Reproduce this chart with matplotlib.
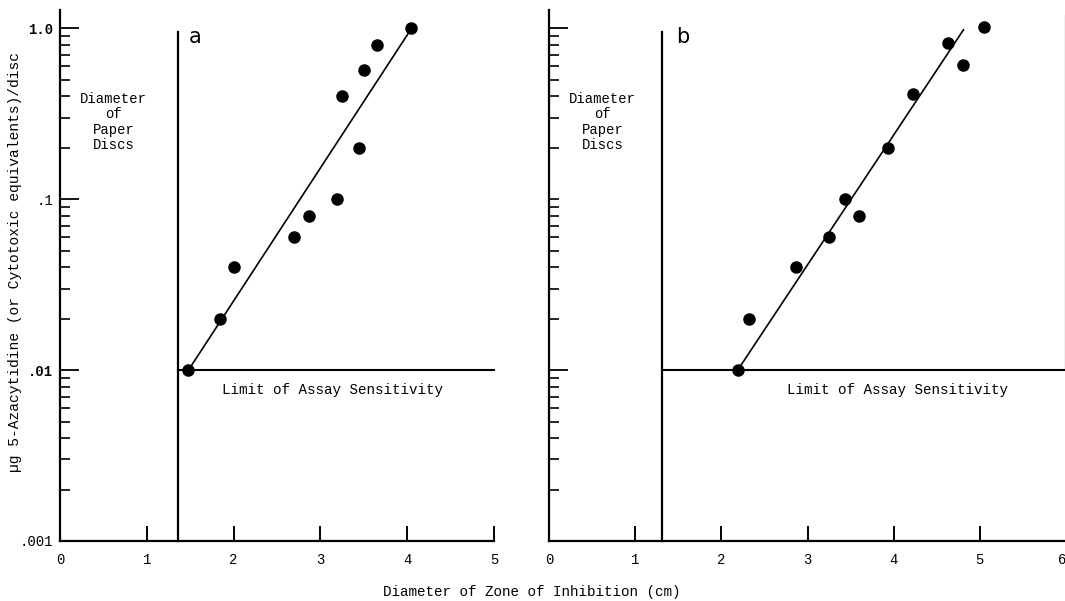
import numpy as np
import matplotlib.pyplot as plt
from matplotlib.ticker import FixedLocator, NullFormatter, FixedFormatter

# === data ===
a_x = [1.48, 1.84, 2.00, 2.70, 2.87, 3.19, 3.25, 3.45, 3.50, 3.65, 4.04]
a_y = [0.01, 0.02, 0.04, 0.06, 0.08, 0.10, 0.40, 0.20, 0.57, 0.80, 1.00]
a_fit_x = [1.48, 4.01]
a_fit_y = [0.01, 0.93]

b_x = [2.19, 2.32, 2.87, 3.25, 3.43, 3.60, 3.94, 4.22, 4.63, 4.81, 5.05]
b_y = [0.01, 0.02, 0.04, 0.06, 0.10, 0.08, 0.20, 0.41, 0.82, 0.61, 1.02]
b_fit_x = [2.19, 4.81]
b_fit_y = [0.01, 0.98]

disc_a = 1.36
disc_b = 1.31
limit = 0.01

ytick_vals = [1.0, 0.1, 0.01, 0.001]
ytick_labels = ['1.0', '.1', '.01', '.001']

mono = 'Liberation Mono'
fig = plt.figure(figsize=(10.65, 6.01), dpi=100)
fig.patch.set_facecolor('white')

ax_a = fig.add_axes([60 / 1065, 60 / 601, 434 / 1065, 531 / 601])
ax_b = fig.add_axes([549 / 1065, 60 / 601, 517 / 1065, 531 / 601])


def minor_ticks():
    out = []
    for dec in [0.001, 0.01, 0.1]:
        out += [dec * k for k in range(2, 10)]
    return out


for ax, xmax in [(ax_a, 5), (ax_b, 6)]:
    ax.set_yscale('log')
    ax.set_xlim(0, xmax)
    ax.set_ylim(0.001, 1.28)
    for s in ['top', 'right']:
        ax.spines[s].set_visible(False)
    for s in ['left', 'bottom']:
        ax.spines[s].set_linewidth(1.6)
    ax.set_xticks(range(0, xmax + 1))
    ax.set_xticklabels([str(i) for i in range(0, xmax + 1)], fontfamily=mono, fontsize=10)
    ax.tick_params(axis='x', direction='in', length=11, width=1.4, pad=9)
    ax.xaxis.get_major_ticks()[0].tick1line.set_visible(False)

# last label of panel b sits on the figure edge
ax_b.get_xticklabels()[-1].set_horizontalalignment('right')

# y ticks panel a
ax_a.yaxis.set_major_locator(FixedLocator(ytick_vals))
ax_a.yaxis.set_major_formatter(FixedFormatter(ytick_labels))
ax_a.yaxis.set_minor_locator(FixedLocator(minor_ticks()))
ax_a.yaxis.set_minor_formatter(NullFormatter())
ax_a.tick_params(axis='y', which='major', direction='in', length=14, width=1.3, pad=5)
ax_a.tick_params(axis='y', which='minor', direction='in', length=7, width=1.2)
for lab, w in zip(ax_a.get_yticklabels(), ['bold', 'normal', 'bold', 'normal']):
    lab.set_fontfamily(mono)
    lab.set_fontsize(10)
    lab.set_fontweight(w)

# y ticks panel b (no labels)
ax_b.yaxis.set_major_locator(FixedLocator([1.0, 0.01]))
ax_b.yaxis.set_major_formatter(NullFormatter())
ax_b.yaxis.set_minor_locator(FixedLocator(minor_ticks() + [0.1]))
ax_b.yaxis.set_minor_formatter(NullFormatter())
ax_b.tick_params(axis='y', which='major', direction='in', length=14, width=1.3)
ax_b.tick_params(axis='y', which='minor', direction='in', length=7, width=1.2)

# panel contents
for ax, px, py, fx, fy, disc, xmax, lab, lim_x, lab_x in [
        (ax_a, a_x, a_y, a_fit_x, a_fit_y, disc_a, 5, 'a', 1.87, 1.56),
        (ax_b, b_x, b_y, b_fit_x, b_fit_y, disc_b, 6, 'b', 2.76, 1.55)]:
    ax.plot([disc, disc], [0.001, 0.95], color='black', lw=1.6, clip_on=False)
    ax.plot([disc, xmax], [limit, limit], color='black', lw=1.5, clip_on=False)
    ax.plot(fx, fy, color='black', lw=1.2)
    ax.plot(px, py, 'o', color='black', markersize=8, clip_on=False, zorder=5)
    ax.annotate('Limit of Assay Sensitivity', xy=(lim_x, limit), xytext=(0, -9),
                textcoords='offset points', ha='left', va='top',
                fontfamily=mono, fontsize=10.3)
    ax.text(lab_x, 0.89, lab, ha='center', va='center', fontsize=15,
            fontfamily='DejaVu Sans')
    ax.text(0.62, 0.283, 'Diameter\nof\nPaper\nDiscs', ha='center', va='center',
            fontfamily=mono, fontsize=10, linespacing=1.1)

# thin border line at right edge of panel b
ax_b.plot([5.99, 5.99], [limit, 1.2], color='black', lw=0.8, clip_on=False)

fig.text(15 / 1065, 1 - 262 / 601,
         '\u00b5g 5-Azacytidine (or Cytotoxic equivalents)/disc',
         rotation=90, ha='center', va='center', fontfamily=mono, fontsize=10.5)
fig.text(532 / 1065, 1 - 592 / 601, 'Diameter of Zone of Inhibition (cm)',
         ha='center', va='center', fontfamily=mono, fontsize=10.3)

fig.savefig('out.png', dpi=100, facecolor='white')
